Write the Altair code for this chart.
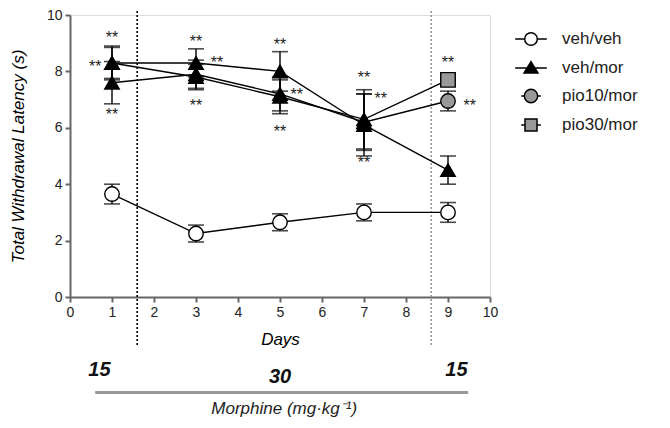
import altair as alt
import pandas as pd

days = [1, 3, 5, 7, 9]
groups = ["veh/veh", "veh/mor", "pio10/mor", "pio30/mor"]
means = {
    "veh/veh": [3.65, 2.25, 2.65, 3.0, 3.0],
    "veh/mor": [8.3, 8.3, 8.0, 6.1, 4.5],
    "pio10/mor": [7.6, 7.9, 7.2, 6.2, 6.95],
    "pio30/mor": [8.3, 7.8, 7.1, 6.3, 7.7],
}
errs = {
    "veh/veh": [0.35, 0.3, 0.3, 0.3, 0.35],
    "veh/mor": [0.6, 0.5, 0.7, 1.1, 0.5],
    "pio10/mor": [0.75, 0.5, 0.6, 1.0, 0.35],
    "pio30/mor": [0.55, 0.45, 0.6, 1.05, 0.2],
}
marker_shape = {"veh/veh": "circle", "veh/mor": "triangle-up",
                "pio10/mor": "circle", "pio30/mor": "square"}
marker_fill = {"veh/veh": "white", "veh/mor": "black",
               "pio10/mor": "#999999", "pio30/mor": "#999999"}
star_x = [1, 0.6, 1, 3, 3.5, 3, 5, 5.4, 5, 7, 7.4, 7, 9, 9.52]
star_y = [9.33, 8.3, 6.6, 9.2, 8.45, 6.9, 9.08, 7.3, 6.0, 7.9, 7.15, 4.9, 8.45, 6.9]
dose_labels = ["15", "30", "15"]
dose_x = [0.7, 5.0, 9.2]
dose_y = [-2.58, -2.83, -2.58]
phase_x = [1.6, 8.6]
phase_color = ["black", "#999999"]

FONT = "Liberation Sans"

rows = []
for g in groups:
    for d, m, e in zip(days, means[g], errs[g]):
        own = (g in ("veh/veh", "veh/mor")) or d == 9
        rows.append({"group": g, "day": d, "mean": m, "lo": m - e, "hi": m + e,
                     "shp": marker_shape[g] if own else "triangle-up",
                     "fll": marker_fill[g] if own else "black",
                     "z": 1 if own else 0})
df = pd.DataFrame(rows)

xs = alt.Scale(domain=[0, 10], nice=False)
ys = alt.Scale(domain=[0, 10], nice=False)
X = alt.X("day:Q", scale=xs,
          axis=alt.Axis(values=list(range(11)), title="Days", titleFontStyle="italic",
                        titleFontWeight="normal", titleFontSize=17, titleFont=FONT,
                        titlePadding=12, labelFontSize=14, labelFont=FONT, labelColor="#222",
                        domainColor="#666", domainWidth=2, tickColor="#666", tickWidth=2,
                        tickSize=5, grid=False, labelPadding=3, labelFlush=False))
Y = alt.Y("mean:Q", scale=ys,
          axis=alt.Axis(values=list(range(0, 11, 2)), title="Total Withdrawal Latency (s)",
                        titleFontStyle="italic", titleFontWeight="normal", titleFontSize=17,
                        titleFont=FONT, titlePadding=19, labelFontSize=14, labelFont=FONT,
                        labelColor="#222", domainColor="#666", domainWidth=2, tickColor="#666",
                        tickWidth=2, tickSize=5, grid=False, labelPadding=3))

base = alt.Chart(df)

lines = base.mark_line(color="black", strokeWidth=1.4).encode(x=X, y=Y, detail="group:N")
bars = base.mark_rule(color="black", strokeWidth=1.4).encode(
    x="day:Q", y="lo:Q", y2="hi:Q")
cap_lo = base.mark_tick(color="black", thickness=1.6, size=16, orient="horizontal").encode(
    x="day:Q", y="lo:Q")
cap_hi = base.mark_tick(color="black", thickness=1.6, size=16, orient="horizontal").encode(
    x="day:Q", y="hi:Q")

pts = base.mark_point(filled=True, stroke="black", strokeWidth=1.4, size=210, opacity=1).encode(
    x="day:Q", y="mean:Q",
    shape=alt.Shape("shp:N", scale=None),
    fill=alt.Fill("fll:N", scale=None),
    order="z:Q",
)

legend_paths = [
    "M-1,0H-0.4M0.4,0H1M-0.4,0A0.4,0.4,0,1,1,0.4,0A0.4,0.4,0,1,1,-0.4,0Z",
    "M-1,0H1M0,-0.4L0.44,0.32H-0.44Z",
    "M-0.62,0H-0.42M0.42,0H0.62M-0.42,0A0.42,0.42,0,1,1,0.42,0A0.42,0.42,0,1,1,-0.42,0Z",
    "M-0.62,0H-0.38M0.38,0H0.62M-0.38,-0.38H0.38V0.38H-0.38Z",
]
leg = base.transform_filter("false").mark_point(
    filled=True, stroke="black", strokeWidth=1.5, size=1000, opacity=1).encode(
    x="day:Q", y="mean:Q",
    shape=alt.Shape("group:N", scale=alt.Scale(domain=groups, range=legend_paths),
                    legend=alt.Legend(title=None, orient="none", legendX=444, legendY=7,
                                      labelFontSize=17, labelFont=FONT, labelColor="#222",
                                      labelOffset=14, rowPadding=2, symbolSize=1000,
                                      symbolStrokeWidth=1.5, symbolStrokeColor="black",
                                      symbolOpacity=1)),
    fill=alt.Fill("group:N", scale=alt.Scale(domain=groups,
                  range=["white", "black", "#999999", "#999999"])),
)

stars_df = pd.DataFrame({"x": star_x, "y": star_y, "t": ["**"] * len(star_x)})
stars = alt.Chart(stars_df).mark_text(fontSize=16, font=FONT, color="#222",
                                      baseline="middle", dy=4).encode(
    x="x:Q", y="y:Q", text="t:N")

rules_df = pd.DataFrame({"x": phase_x, "c": phase_color, "y1": [-1.7, -1.7], "y2": [10.2, 10.2]})
rules = alt.Chart(rules_df).mark_rule(strokeDash=[2, 2], strokeWidth=1.6).encode(
    x="x:Q", y="y1:Q", y2="y2:Q", color=alt.Color("c:N", scale=None))

dose_df = pd.DataFrame({"x": dose_x, "y": dose_y, "t": dose_labels})
dose = alt.Chart(dose_df).mark_text(fontSize=20, font=FONT, fontWeight="bold",
                                    fontStyle="italic", color="#111").encode(
    x="x:Q", y="y:Q", text="t:N")

bar_df = pd.DataFrame({"x": [0.6], "x2": [9.48], "y": [-3.39]})
bar = alt.Chart(bar_df).mark_rule(color="#999999", strokeWidth=3).encode(
    x="x:Q", x2="x2:Q", y="y:Q")

mlab_df = pd.DataFrame({"x": [5.1], "y": [-3.97], "t": ["Morphine (mg·kg⁻¹)"]})
mlab = alt.Chart(mlab_df).mark_text(fontSize=17, font=FONT, fontStyle="italic",
                                    color="#222").encode(x="x:Q", y="y:Q", text="t:N")

chart = alt.layer(rules, lines, bars, cap_lo, cap_hi, pts, leg, stars, dose, bar, mlab).properties(
    width=420, height=282,
    autosize=alt.AutoSizeParams(type="none"),
    padding={"left": 62, "top": 7, "right": 172, "bottom": 123},
).configure_view(stroke=None).configure(background="white")

chart.save("out.html", embed_options={"renderer": "svg", "actions": False})
